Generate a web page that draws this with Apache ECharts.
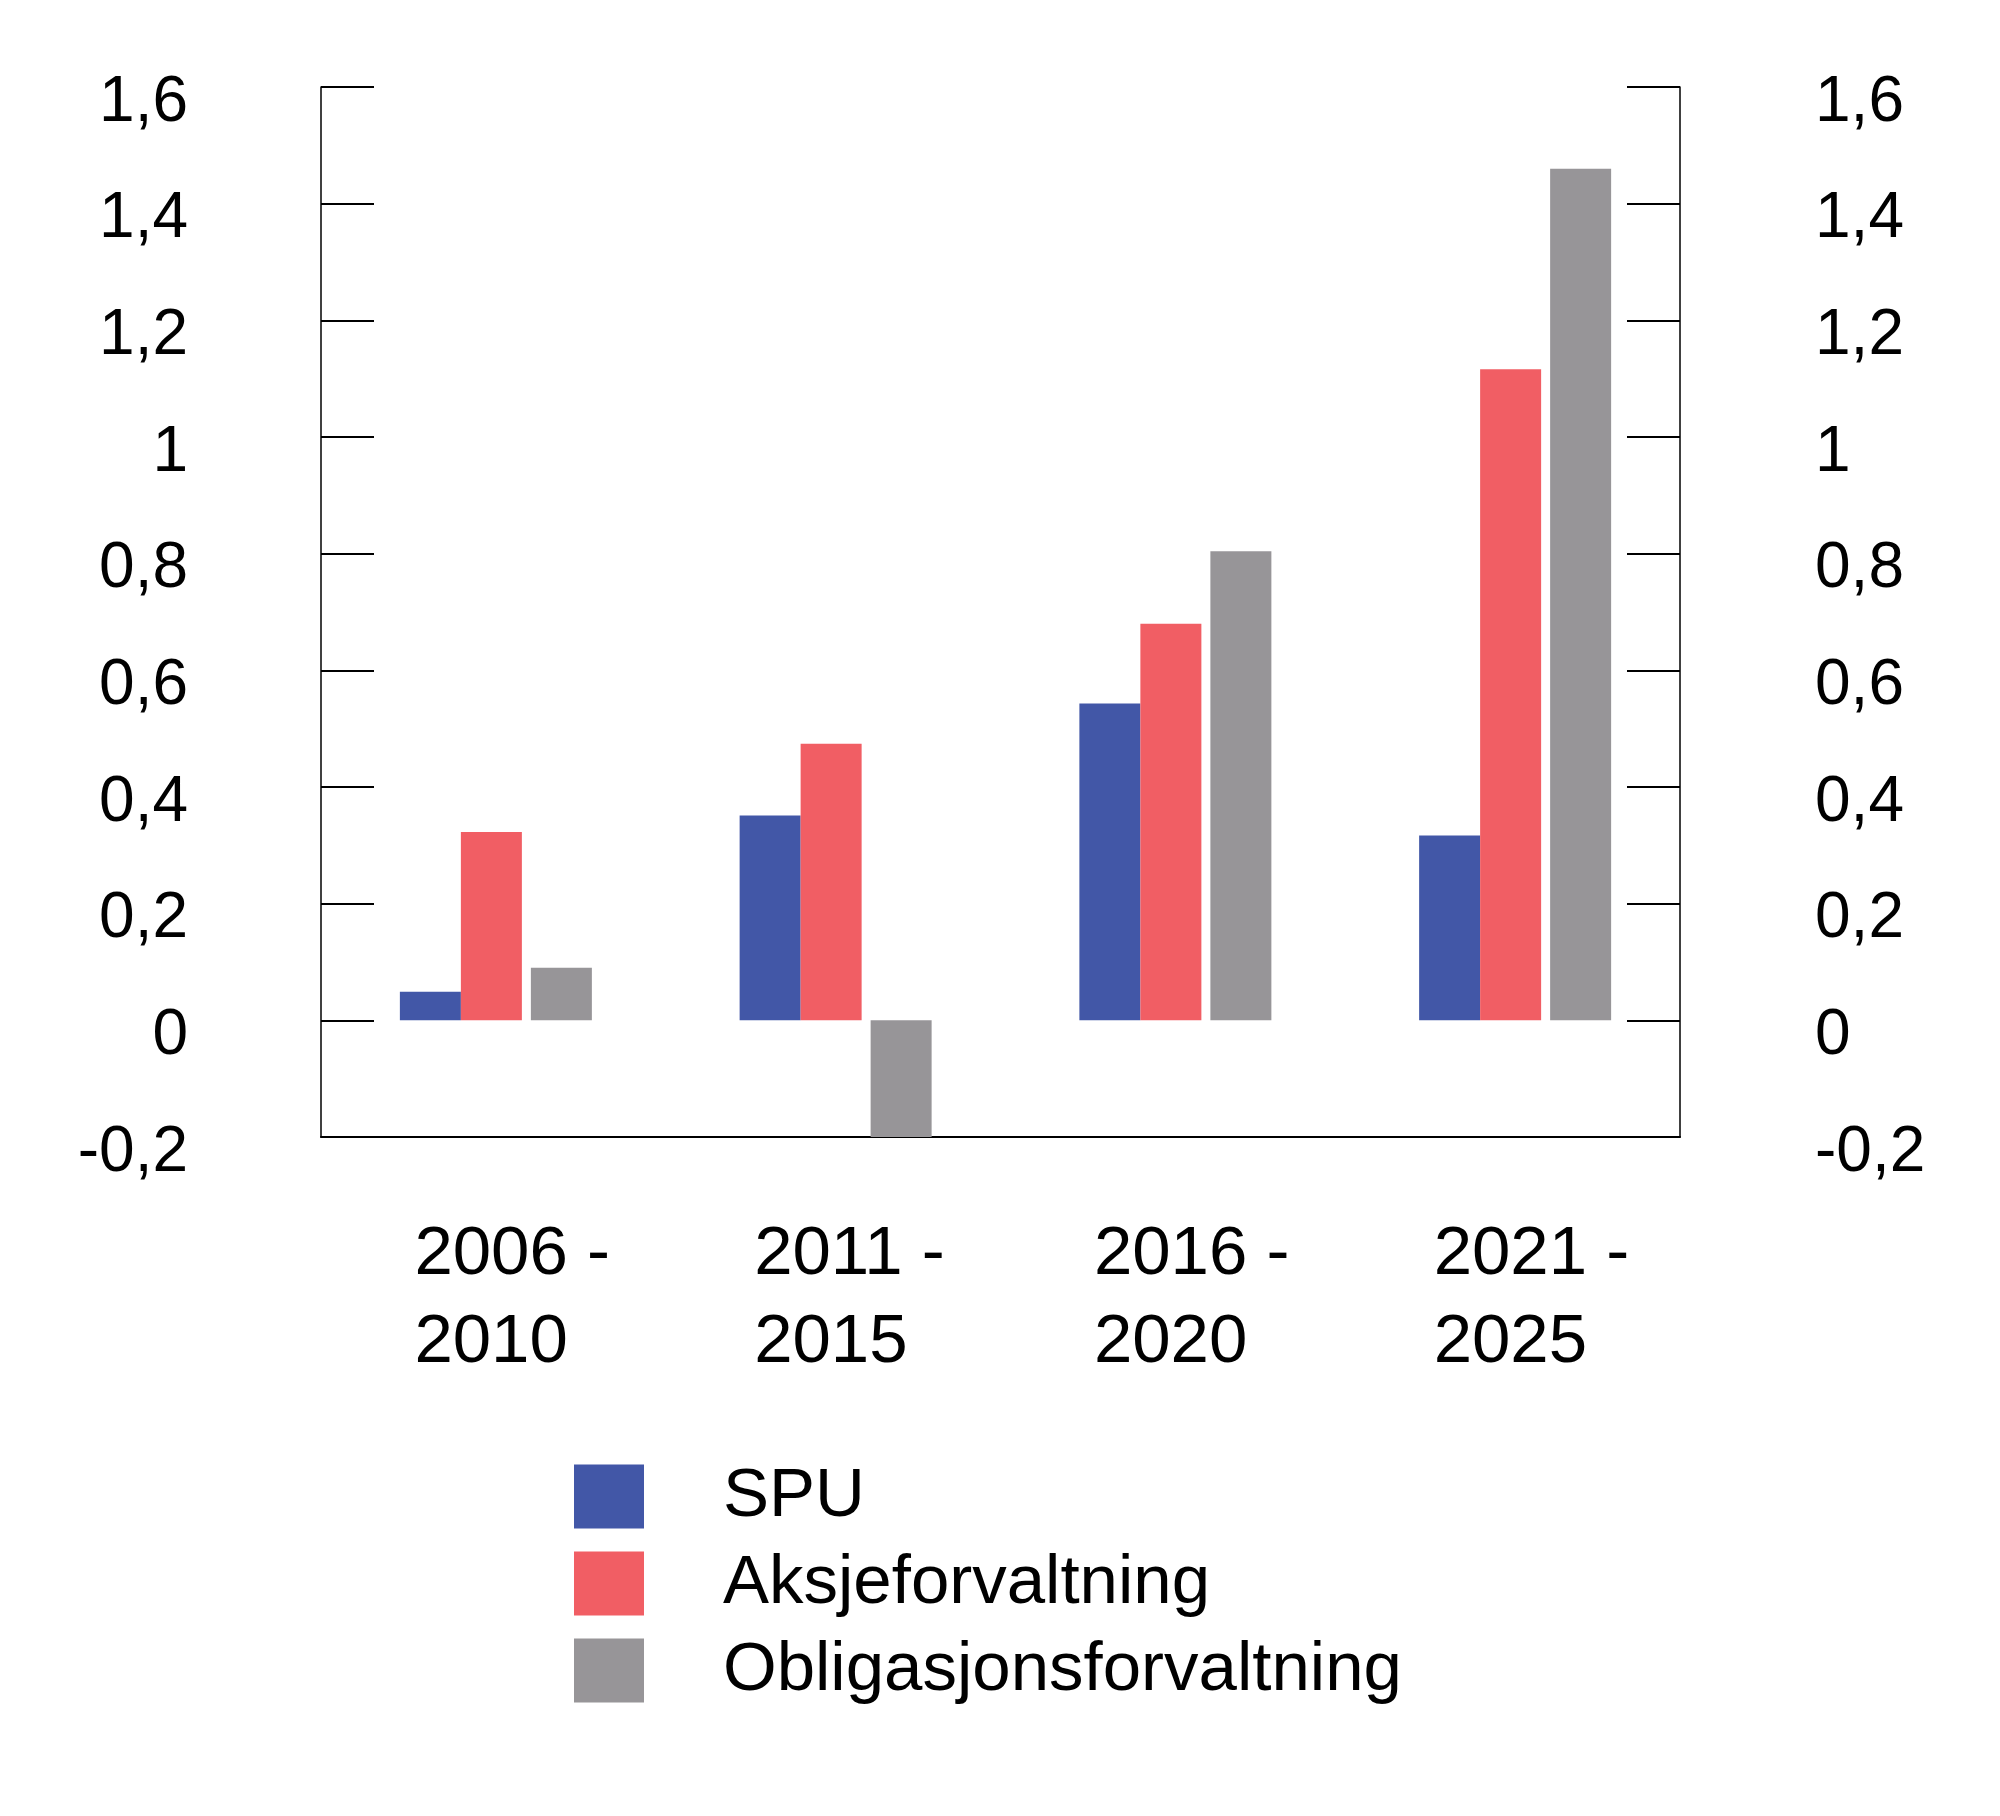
<!DOCTYPE html>
<html>
<head>
<meta charset="utf-8">
<script src="https://cdn.jsdelivr.net/npm/echarts@6/dist/echarts.min.js"></script>
<style>
html,body{margin:0;padding:0;background:#fff;}
#chart{width:2000px;height:1816px;}
</style>
</head>
<body>
<div id="chart"></div>
<script>
const categories = [['2006 -','2010'], ['2011 -','2015'], ['2016 -','2020'], ['2021 -','2025']];
const spu = [0.049, 0.351, 0.543, 0.317];
const aksje = [0.323, 0.474, 0.680, 1.116];
const oblig = [0.090, -0.200, 0.804, 1.460];
const yTickLabels = ['-0,2','0','0,2','0,4','0,6','0,8','1','1,2','1,4','1,6'];
const seriesNames = ['SPU','Aksjeforvaltning','Obligasjonsforvaltning'];
const colors = ['#4257A7','#F15E64','#979598'];

const FONT = 'Liberation Sans';
const chart = echarts.init(document.getElementById('chart'), null, {renderer:'canvas'});

function yFmt(v){
  const i = Math.round((v + 0.2) / 0.2);
  return yTickLabels[i] !== undefined ? '{t|' + yTickLabels[i] + '}' : '';
}

const yCommon = {
  type:'value', min:-0.2, max:1.6, interval:0.2,
  splitLine:{show:false},
  axisLine:{show:true, lineStyle:{color:'#000', width:1.5}},
  axisTick:{show:true, inside:true, length:53, lineStyle:{color:'#000', width:2}},
  axisLabel:{formatter:yFmt, color:'#000', fontFamily:FONT, fontSize:64,
    rich:{t:{fontFamily:FONT, fontSize:64, color:'#000', padding:[32,0,0,0]}}}
};

const spacer = (w) => ({
  type:'bar', name:'_sp'+w, data:categories.map(()=>null), barWidth:w, barGap:'0%',
  itemStyle:{color:'rgba(0,0,0,0)'}, silent:true
});

const option = {
  animation:false,
  backgroundColor:'#fff',
  grid:{left:321, right:320, top:87, bottom:1816-1137, containLabel:false},
  legend:{
    orient:'vertical', left:569, top:1457,
    data:seriesNames,
    icon:'rect', itemWidth:70, itemHeight:64, itemGap:18,
    textStyle:{color:'#000', fontFamily:FONT, fontSize:69, lineHeight:64, padding:[0,0,0,74]},
    selectedMode:false
  },
  xAxis:{
    type:'category', data:categories.map(c=>c.join('\n')),
    axisLine:{show:true, onZero:false, lineStyle:{color:'#000', width:2}},
    axisTick:{show:false},
    axisLabel:{
      interval:0, margin:74, color:'#000', fontFamily:FONT, fontSize:69,
      align:'center',
      formatter:(v)=>v.split('\n').map(s=>'{a|'+s+'}').join('\n'),
      rich:{a:{width:153, align:'left', lineHeight:88, fontSize:69, fontFamily:FONT, color:'#000'}}
    },
    splitLine:{show:false}
  },
  yAxis:[
    Object.assign({}, yCommon, {position:'left', axisLabel:Object.assign({}, yCommon.axisLabel, {margin:133})}),
    Object.assign({}, yCommon, {position:'right', axisLabel:Object.assign({}, yCommon.axisLabel, {margin:135})})
  ],
  series:[
    spacer(10),
    {type:'bar', name:seriesNames[0], data:spu, barWidth:61, barGap:'0%', itemStyle:{color:colors[0]}},
    {type:'bar', name:seriesNames[1], data:aksje, barWidth:61, barGap:'0%', itemStyle:{color:colors[1]}},
    spacer(9),
    {type:'bar', name:seriesNames[2], data:oblig, barWidth:61, barGap:'0%', itemStyle:{color:colors[2]}}
  ]
};
chart.setOption(option);
</script>
</body>
</html>
